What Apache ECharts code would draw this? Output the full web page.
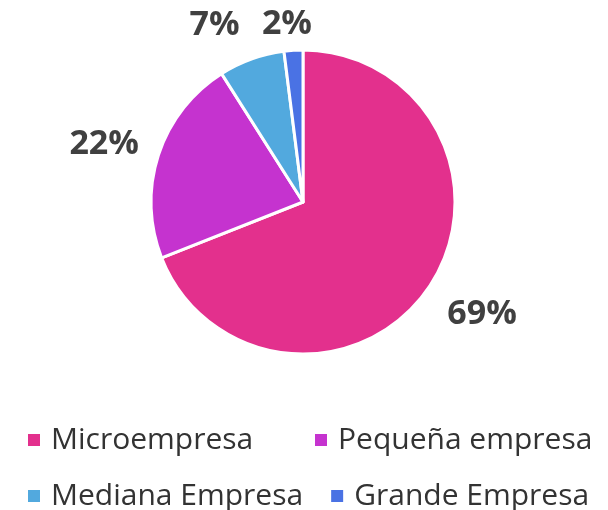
<!DOCTYPE html>
<html>
<head>
<meta charset="utf-8">
<script src="https://cdn.jsdelivr.net/npm/echarts@6/dist/echarts.min.js"></script>
<style>
  html, body { margin: 0; padding: 0; background: #fff; }
  #main { width: 608px; height: 510px; }
</style>
</head>
<body>
<div id="main"></div>
<script>
const categories = ['Microempresa', 'Pequeña empresa', 'Mediana Empresa', 'Grande Empresa']
const shares = [69, 22, 7, 2]
const colors = ['#e3308d', '#c533cf', '#52a9de', '#4a72e4']

const chart = echarts.init(document.getElementById('main'))

// nudges so the labels sit where the original put them
const labelNudge = [[7, -5], [-1, 7], [-18, 19], [-3, 30]]

const option = {
  animation: false,
  color: colors,
  legend: {
    left: 26, top: 425, width: 580, padding: 0,
    itemWidth: 14, itemHeight: 14, icon: 'rect',
    itemGap: 26,
    data: categories,
    formatter: name => '{t|' + name + '}',
    textStyle: {
      fontFamily: 'Open Sans', fontSize: 30, color: '#333',
      rich: { t: { fontFamily: 'Open Sans', fontSize: 30, color: '#333', width: 236, lineHeight: 26, padding: [0, 0, 0, 5] } }
    }
  },
  series: [
    {
      type: 'pie',
      center: [303, 202],
      radius: [0, 152],
      startAngle: 90,
      clockwise: true,
      label: { show: false },
      labelLine: { show: false },
      itemStyle: { borderColor: '#fff', borderWidth: 3 },
      emphasis: { disabled: true },
      data: categories.map((name, i) => ({ name, value: shares[i] }))
    },
    {
      // invisible ring used only to place the percentage labels
      type: 'pie',
      silent: true,
      center: [303, 202],
      radius: [152, 258],
      startAngle: 90,
      clockwise: true,
      itemStyle: { color: 'transparent' },
      label: {
        show: true,
        position: 'inside',
        formatter: p => p.value + '%',
        fontFamily: 'Open Sans',
        fontWeight: 'bold',
        fontSize: 34,
        color: '#404040'
      },
      labelLine: { show: false },
      emphasis: { disabled: true },
      data: categories.map((name, i) => ({
        name,
        value: shares[i],
        label: { offset: labelNudge[i] }
      }))
    }
  ]
}

chart.setOption(option)
</script>
</body>
</html>
